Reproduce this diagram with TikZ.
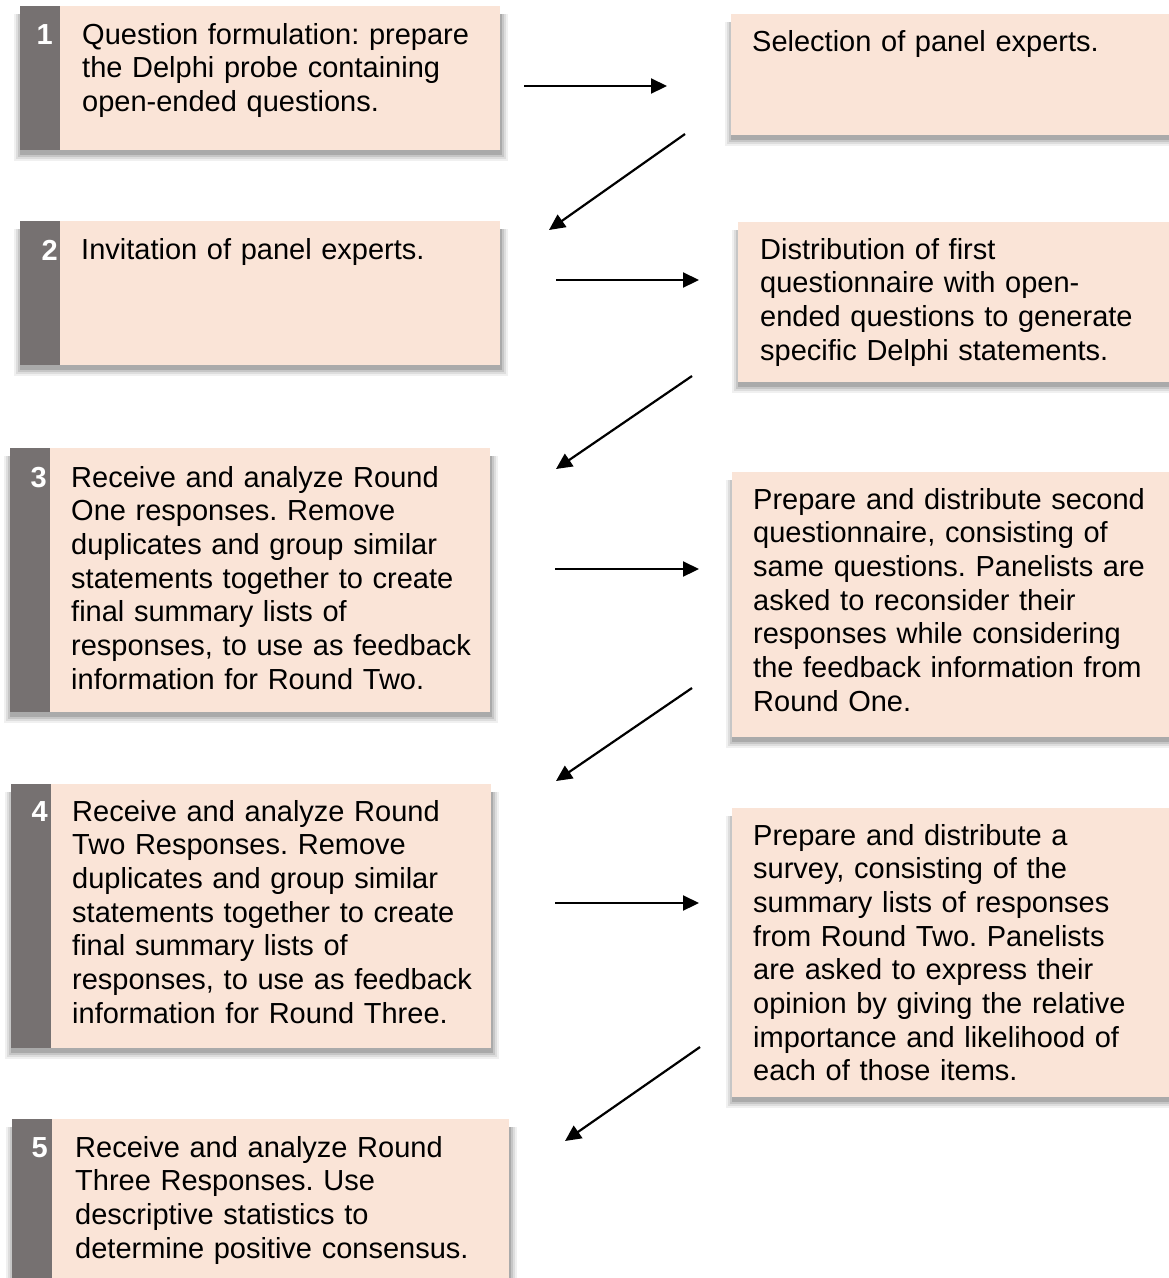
\documentclass[tikz,border=0pt]{standalone}
\usepackage{fontspec}
\setmainfont{Liberation Sans}
\frenchspacing
\usetikzlibrary{arrows.meta}
\definecolor{peach}{HTML}{FAE4D7}
\definecolor{barg}{HTML}{767171}
\tikzset{
  txt/.style={anchor=base west, inner sep=0pt, align=left, text width=415pt,
    font=\fontsize{29}{33.7}\selectfont},
  num/.style={anchor=base east, inner sep=0pt, text=white,
    font=\fontsize{29}{30}\selectfont\bfseries},
  flow/.style={line width=2.2pt, -{Triangle[length=16pt,width=15pt]}},
  boxfill/.style={fill=peach, draw=none},
  barfill/.style={fill=barg, draw=none},
}
% name, x1, y1, x2, y2
\newcommand\pbox[5]{%
  \foreach \k/\o in {7/0.06,5/0.08,3/0.10,1/0.14}{%
    \fill[black,opacity=\o] (#2-\k+1,#3+8) rectangle (#4+\k+1,#5+4+\k);}
  \path[boxfill] (#2,#3) rectangle (#4,#5) coordinate (#1-se);
  \coordinate (#1-nw) at (#2,#3);
}
\newcommand\pbar[5]{%
  \path[barfill] (#2,#3) rectangle (#4,#5);
  \coordinate (#1) at (#2,#3);
}
\begin{document}
\begin{tikzpicture}[x=1pt,y=-1pt]
\useasboundingbox (0,0) rectangle (1169,1278);
\clip (0,0) rectangle (1169,1278);

% boxes
\pbox{b1}{20}{6}{500}{150}   \pbar{bar1}{20}{6}{60}{150}
\pbox{r1}{731}{14}{1169}{135}
\pbox{b2}{20}{221}{500}{365} \pbar{bar2}{20}{221}{60}{365}
\pbox{r2}{738}{222}{1169}{382}
\pbox{b3}{10}{448}{490}{712} \pbar{bar3}{10}{448}{50}{712}
\pbox{r3}{732}{472}{1169}{737}
\pbox{b4}{11}{784}{491}{1048} \pbar{bar4}{11}{784}{51}{1048}
\pbox{r4}{732}{808}{1169}{1097}
\pbox{b5}{12}{1119}{509}{1300} \pbar{bar5}{12}{1119}{52}{1300}

% numbers
\node[num] (n1) at (53,44) {1};
\node[num] (n2) at (58,260) {2};
\node[num] (n3) at (47,487) {3};
\node[num] (n4) at (48,821) {4};
\node[num] (n5) at (48,1157) {5};

% texts
\node[txt] (t1) at (82,44) {Question formulation: prepare\\the Delphi probe containing\\open-ended questions.};
\node[txt] (tr1) at (752,51) {Selection of panel experts.};
\node[txt] (t2) at (81,259) {Invitation of panel experts.};
\node[txt] (tr2) at (760,259) {Distribution of first\\questionnaire with open-\\ended questions to generate\\specific Delphi statements.};
\node[txt] (t3) at (71,487) {Receive and analyze Round\\One responses. Remove\\duplicates and group similar\\statements together to create\\final summary lists of\\responses, to use as feedback\\information for Round Two.};
\node[txt] (tr3) at (753,509) {Prepare and distribute second\\questionnaire, consisting of\\same questions. Panelists are\\asked to reconsider their\\responses while considering\\the feedback information from\\Round One.};
\node[txt] (t4) at (72,821) {Receive and analyze Round\\Two Responses. Remove\\duplicates and group similar\\statements together to create\\final summary lists of\\responses, to use as feedback\\information for Round Three.};
\node[txt] (tr4) at (753,845) {Prepare and distribute a\\survey, consisting of the\\summary lists of responses\\from Round Two. Panelists\\are asked to express their\\opinion by giving the relative\\importance and likelihood of\\each of those items.};
\node[txt] (t5) at (75,1157) {Receive and analyze Round\\Three Responses. Use\\descriptive statistics to\\determine positive consensus.};

% arrow end points
\coordinate (a1s) at (524,86);  \coordinate (a1e) at (667,86);
\coordinate (a2s) at (685,134); \coordinate (a2e) at (549,230);
\coordinate (a3s) at (556,280); \coordinate (a3e) at (699,280);
\coordinate (a4s) at (692,376); \coordinate (a4e) at (556,469);
\coordinate (a5s) at (555,569); \coordinate (a5e) at (699,569);
\coordinate (a6s) at (692,688); \coordinate (a6e) at (556,781);
\coordinate (a7s) at (555,903); \coordinate (a7e) at (699,903);
\coordinate (a8s) at (700,1047); \coordinate (a8e) at (565,1141);

\draw[flow] (a1s) -- (a1e);
\draw[flow] (a2s) -- (a2e);
\draw[flow] (a3s) -- (a3e);
\draw[flow] (a4s) -- (a4e);
\draw[flow] (a5s) -- (a5e);
\draw[flow] (a6s) -- (a6e);
\draw[flow] (a7s) -- (a7e);
\draw[flow] (a8s) -- (a8e);
\end{tikzpicture}
\end{document}
